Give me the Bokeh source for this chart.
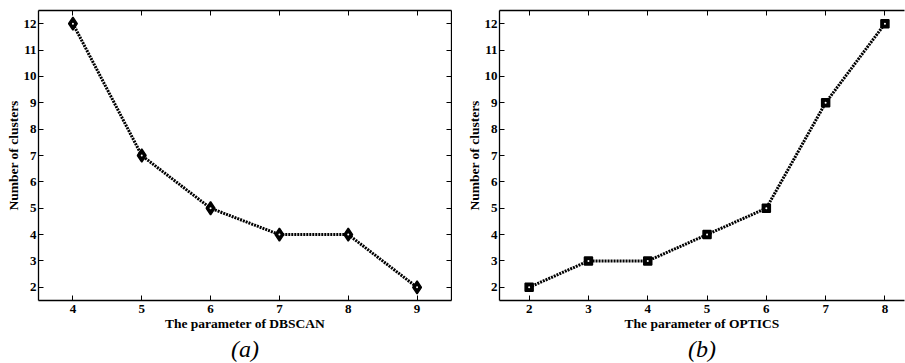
from bokeh.plotting import figure
from bokeh.layouts import row
from bokeh.models import LinearAxis, Range1d, Title, FixedTicker
from bokeh.embed import file_html
from bokeh.resources import INLINE

# Data
dbscan_param = [4, 5, 6, 7, 8, 9]
dbscan_clusters = [12, 7, 5, 4, 4, 2]
optics_param = [2, 3, 4, 5, 6, 7, 8]
optics_clusters = [2, 3, 3, 4, 5, 9, 12]
y_ticks = list(range(2, 13))

FONT = "Liberation Serif"


def style_axis(ax, ticks, show_labels=True):
    ax.ticker = FixedTicker(ticks=ticks)
    ax.axis_line_color = "black"
    ax.axis_line_width = 1.3
    ax.major_tick_in = 5
    ax.major_tick_out = 0
    ax.major_tick_line_color = "black"
    ax.major_tick_line_width = 1
    ax.minor_tick_in = 0
    ax.minor_tick_out = 0
    ax.major_label_text_font = FONT
    ax.major_label_text_font_style = "bold"
    ax.major_label_text_color = "black"
    ax.major_label_text_font_size = "13px"
    ax.axis_label_text_font = FONT
    ax.axis_label_text_font_style = "bold"
    ax.axis_label_text_color = "black"
    ax.axis_label_text_font_size = "13.5px"
    if show_labels:
        ax.major_label_standoff = 4
        ax.axis_label_standoff = 0
    else:
        ax.major_label_overrides = {t: "" for t in ticks}
        ax.major_label_standoff = 0
        ax.axis_label_standoff = 0


def make_fig(xs, xr, xlabel, width, mb_left, mb_right):
    p = figure(width=width, height=363, x_range=Range1d(*xr), y_range=Range1d(1.5, 12.5),
               output_backend="svg", toolbar_location=None,
               min_border_left=mb_left, min_border_right=mb_right,
               min_border_top=10, min_border_bottom=63)
    p.grid.visible = False
    p.outline_line_color = None
    p.background_fill_color = "white"
    p.border_fill_color = "white"
    p.xaxis.axis_label = xlabel
    p.yaxis.axis_label = "Number of clusters"
    style_axis(p.xaxis[0], xs)
    style_axis(p.yaxis[0], y_ticks)
    p.yaxis[0].major_label_standoff = 2
    top = LinearAxis()
    style_axis(top, xs, show_labels=False)
    p.add_layout(top, "above")
    return p


def add_title(p, text):
    p.add_layout(Title(text=text, align="center", text_font=FONT, text_font_style="italic",
                       text_font_size="24px", text_color="black", standoff=0, offset=0), "below")


p1 = make_fig(dbscan_param, (3.5, 9.5), "The parameter of DBSCAN", 452, 38, 1)
right = LinearAxis()
style_axis(right, y_ticks, show_labels=False)
p1.add_layout(right, "right")
p1.line(dbscan_param, dbscan_clusters, line_color="black", line_width=3, line_dash="2 1")
p1.scatter(dbscan_param, dbscan_clusters, marker="diamond", size=13,
           fill_color="black", line_color="black", line_width=1.5)
p1.scatter(dbscan_param, dbscan_clusters, marker="circle", size=2,
           fill_color="white", line_color=None)
add_title(p1, "(a)")

p2 = make_fig(optics_param, (1.5, 8.33), "The parameter of OPTICS", 453, 47, 1)
p2.line(optics_param, optics_clusters, line_color="black", line_width=3, line_dash="2 1")
p2.scatter(optics_param, optics_clusters, marker="square", size=8,
           fill_color="black", line_color="black", line_width=1.5)
p2.scatter(optics_param, optics_clusters, marker="circle", size=2,
           fill_color="white", line_color=None)
add_title(p2, "(b)")

layout = row(p1, p2)
open("out.html", "w").write(file_html(layout, INLINE))
